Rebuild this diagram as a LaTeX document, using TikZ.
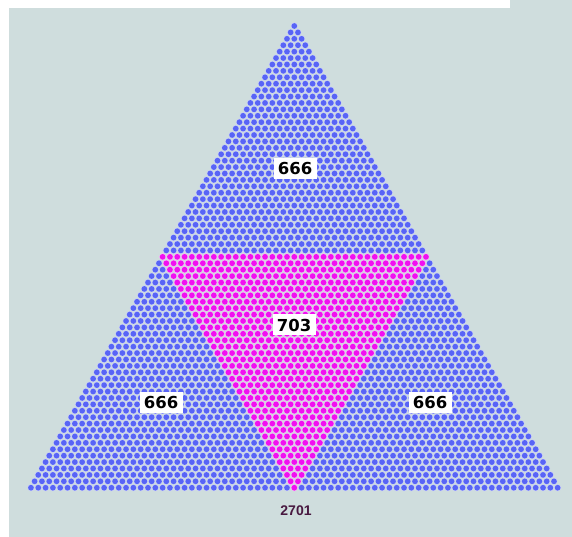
\documentclass[tikz,border=0pt]{standalone}
\usepackage{fontspec}
\setmainfont{Liberation Sans}
\newfontfamily\labfont{DejaVu Sans}
\definecolor{bg}{RGB}{207,221,221}
\definecolor{dotblue}{RGB}{88,100,246}
\definecolor{dotpink}{RGB}{240,16,240}
\definecolor{sumcol}{RGB}{72,24,64}
\tikzset{
  countlabel/.style={fill=white, inner sep=0pt, minimum width=43pt, minimum height=21pt,
    font=\labfont\bfseries\fontsize{16.5}{16.5}\selectfont, text=black},
  sumlabel/.style={inner sep=0pt, font=\bfseries\fontsize{14}{14}\selectfont, text=sumcol}
}
\begin{document}
\begin{tikzpicture}[x=1pt,y=1pt]
\useasboundingbox (0,0) rectangle (572,537);
\fill[white] (0,0) rectangle (572,537);
\fill[bg] (9,0) rectangle (572,529);
\fill[bg] (510,529) rectangle (572,537);
\foreach \r in {0,...,72}{
  \foreach \i in {0,...,\r}{
    \pgfmathsetmacro\xx{294.3+(\i-\r/2)*7.315}
    \pgfmathsetmacro\yy{511-\r*6.413}
    \pgfmathtruncatemacro\pk{and(\r>35, and(\i>\r-37, \i<37))}
    \ifnum\pk=1 \def\dc{dotpink}\else\def\dc{dotblue}\fi
    \fill[\dc!35!white] (\xx,\yy) circle (3.45);
    \fill[\dc] (\xx,\yy) circle (2.85);
  }
}
\node[countlabel] (top) at (295,368) {666};
\node[countlabel] (mid) at (294,212) {703};
\node[countlabel] (left) at (161,134) {666};
\node[countlabel] (right) at (430,134) {666};
\node[sumlabel] (total) at (296,26) {2701};
\end{tikzpicture}
\end{document}
